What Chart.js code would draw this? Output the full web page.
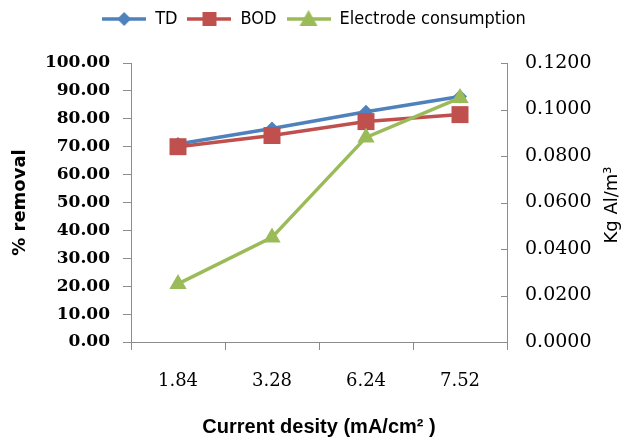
<!DOCTYPE html>
<html>
<head>
<meta charset="utf-8">
<script src="https://cdn.jsdelivr.net/npm/chart.js@4"></script>
<style>
  html, body { margin: 0; padding: 0; background: #fff; }
  #wrap { width: 628px; height: 441px; }
</style>
</head>
<body>
<div id="wrap"><canvas id="chart"></canvas></div>
<script>
// values
const categories = ['1.84', '3.28', '6.24', '7.52'];
const tdValues = [71.0, 76.5, 82.5, 88.0];
const bodValues = [70.0, 74.0, 79.0, 81.5];
const electrodeValues = [0.025, 0.045, 0.088, 0.105];
const seriesNames = ['TD', 'BOD', 'Electrode consumption'];

const blue = '#4F81BD', red = '#C0504D', green = '#9BBB59';
const axisColor = '#8c8c8c';

// little line + marker pictures for the legend, like the Excel legend
function legendIcon(color, shape) {
  const c = document.createElement('canvas');
  c.width = 44; c.height = 22;
  const g = c.getContext('2d');
  g.strokeStyle = color; g.fillStyle = color; g.lineWidth = 3.5;
  g.beginPath(); g.moveTo(0, 11); g.lineTo(44, 11); g.stroke();
  g.beginPath();
  if (shape === 'diamond') {
    g.moveTo(22, 4); g.lineTo(29, 11); g.lineTo(22, 18); g.lineTo(15, 11);
  } else if (shape === 'square') {
    g.rect(15, 4, 14, 14);
  } else {
    g.moveTo(22, 2); g.lineTo(31, 18); g.lineTo(13, 18);
  }
  g.closePath(); g.fill();
  return c;
}
const icons = [legendIcon(blue, 'diamond'), legendIcon(red, 'square'), legendIcon(green, 'triangle')];

const extras = {
  id: 'extras',
  beforeUpdate(chart) {
    const lg = chart.legend;
    if (lg && !lg._patched) {
      const fit = lg.fit;
      lg.fit = function () { fit.call(this); this.height = 63; };
      lg._patched = true;
    }
  },
  afterDraw(chart) {
    const ctx = chart.ctx;
    const s = chart.scales.y1;
    ctx.save();
    ctx.strokeStyle = axisColor;
    ctx.lineWidth = 1;
    ctx.beginPath();
    s.ticks.forEach((t, i) => {
      const y = Math.round(s.getPixelForTick(i)) + 0.5;
      ctx.moveTo(s.left - 6, y);
      ctx.lineTo(s.left, y);
    });
    ctx.stroke();
    // right title reads bottom to top in the original
    ctx.translate(612, 205);
    ctx.rotate(-Math.PI / 2);
    ctx.fillStyle = '#000';
    ctx.font = '18px "DejaVu Sans"';
    ctx.textAlign = 'center';
    ctx.textBaseline = 'middle';
    ctx.fillText('Kg Al/m\u00B3', 0, 0);
    ctx.restore();
  }
};

new Chart(document.getElementById('chart'), {
  type: 'line',
  data: {
    labels: categories,
    datasets: [{
      label: seriesNames[0],
      data: tdValues,
      yAxisID: 'y',
      borderColor: blue,
      backgroundColor: blue,
      borderWidth: 3.5,
      pointStyle: 'rectRot',
      pointRadius: 7,
      pointBorderWidth: 0,
      order: 3
    }, {
      label: seriesNames[1],
      data: bodValues,
      yAxisID: 'y',
      borderColor: red,
      backgroundColor: red,
      borderWidth: 3.5,
      pointStyle: 'rect',
      pointRadius: 12,
      pointBorderWidth: 0,
      order: 2
    }, {
      label: seriesNames[2],
      data: electrodeValues,
      yAxisID: 'y1',
      borderColor: green,
      backgroundColor: green,
      borderWidth: 3.5,
      pointStyle: 'triangle',
      pointRadius: 10,
      pointBorderWidth: 0,
      order: 1
    }]
  },
  options: {
    responsive: true,
    maintainAspectRatio: false,
    animation: false,
    layout: { padding: 0 },
    plugins: {
      tooltip: { enabled: false },
      legend: {
        position: 'top',
        labels: {
          usePointStyle: true,
          pointStyleWidth: 44,
          padding: 10,
          color: '#000',
          font: { family: '"DejaVu Sans Condensed", "Liberation Sans", sans-serif', size: 18 },
          sort: (a, b) => a.datasetIndex - b.datasetIndex,
          generateLabels(chart) {
            const items = Chart.defaults.plugins.legend.labels.generateLabels(chart);
            items.forEach(it => { it.pointStyle = icons[it.datasetIndex]; });
            return items;
          }
        }
      }
    },
    scales: {
      x: {
        offset: true,
        afterFit(s) { s.height = 99; },
        grid: { display: true, drawOnChartArea: false, offset: true, tickLength: 8, color: axisColor },
        border: { color: axisColor },
        ticks: {
          padding: 21,
          color: '#000',
          font: { family: '"DejaVu Serif"', size: 18 }
        },
        title: {
          display: true,
          text: 'Current desity (mA/cm\u00B2 )',
          color: '#000',
          padding: { top: 0, bottom: 2 },
          font: { family: '"Liberation Sans"', size: 20, weight: 'bold' }
        }
      },
      y: {
        position: 'left',
        min: 0,
        max: 100,
        afterFit(s) { s.width = 131; },
        grid: { display: true, drawOnChartArea: false, tickLength: 8, color: axisColor },
        border: { color: axisColor },
        ticks: {
          stepSize: 10,
          padding: 13,
          color: '#000',
          font: { family: '"DejaVu Serif"', size: 17, weight: 'bold' },
          callback: v => Number(v).toFixed(2)
        },
        title: {
          display: true,
          text: '% removal',
          color: '#000',
          padding: { top: 10, bottom: 0 },
          font: { family: '"DejaVu Sans"', size: 18, weight: 'bold' }
        }
      },
      y1: {
        position: 'right',
        min: 0,
        max: 0.12,
        afterFit(s) { s.width = 121; },
        grid: { display: true, drawOnChartArea: false, drawTicks: false, color: axisColor },
        border: { color: axisColor },
        ticks: {
          stepSize: 0.02,
          padding: 18,
          color: '#000',
          font: { family: '"DejaVu Serif"', size: 19 },
          callback: v => Number(v).toFixed(4)
        }
      }
    }
  },
  plugins: [extras]
});
</script>
</body>
</html>
